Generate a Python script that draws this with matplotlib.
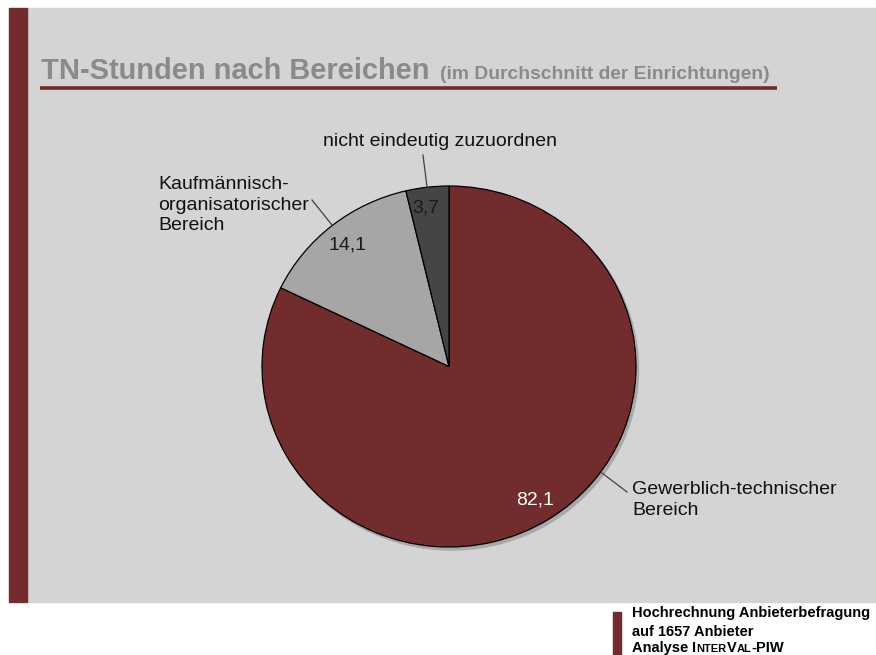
import matplotlib.pyplot as plt
from matplotlib.patches import Rectangle, Ellipse

# Daten
labels = ['Gewerblich-technischer\nBereich',
          'Kaufmännisch-\norganisatorischer\nBereich',
          'nicht eindeutig zuzuordnen']
values = [82.1, 14.1, 3.7]
value_texts = ['82,1', '14,1', '3,7']
colors = ['#722c2d', '#a6a6a6', '#454545']

W, H = 876, 655
fig = plt.figure(figsize=(W / 100, H / 100), dpi=100)
fig.patch.set_facecolor('white')

# Hintergrund in Pixelkoordinaten (y von oben)
bg = fig.add_axes([0, 0, 1, 1])
bg.set_xlim(0, W)
bg.set_ylim(H, 0)
bg.axis('off')
bg.add_patch(Rectangle((27, 8), W - 27, 594, color='#d4d4d4', zorder=0))
bg.add_patch(Rectangle((9, 8), 18, 594, color='#722c2d', zorder=1))
bg.plot([40, 777], [88, 88], color='#722c2d', lw=2.6, solid_capstyle='butt')

font = 'Liberation Sans'
bg.text(41, 79, 'TN-Stunden nach Bereichen', fontsize=20.9, fontweight='bold',
        color='#8a8a8a', family=font, va='baseline')
bg.text(440, 79, '(im Durchschnitt der Einrichtungen)', fontsize=13.9,
        fontweight='bold', color='#8a8a8a', family=font, va='baseline')

# Fußzeile
bg.add_patch(Rectangle((613, 612), 8, 43, color='#722c2d'))
bg.text(632, 613, 'Hochrechnung Anbieterbefragung', fontsize=10.5, fontweight='bold',
        family=font, va='center')
bg.text(632, 632, 'auf 1657 Anbieter', fontsize=10.5, fontweight='bold',
        family=font, va='center')
parts = [('Analyse ', 10.5), ('I', 10.5), ('NTER', 8), ('V', 10.5), ('AL', 8), ('-PIW', 10.5)]
fig.canvas.draw()
r = fig.canvas.get_renderer()
x = 632
for s, fs in parts:
    t = bg.text(x, 652, s, fontsize=fs, fontweight='bold', family=font, va='baseline')
    bb = t.get_window_extent(renderer=r)
    x += bb.width

# Schatten
cx, cy, rx, ry = 449, 366.5, 187, 180.5
bg.add_patch(Ellipse((cx + 2.5, cy + 3), 2 * rx, 2 * ry, color='#a9a9a9', zorder=2))

# Kreisdiagramm
ax = fig.add_axes([(cx - rx) / W, 1 - (cy + ry) / H, 2 * rx / W, 2 * ry / H])
ax.pie(values, colors=colors, startangle=90, counterclock=False,
       wedgeprops=dict(edgecolor='black', linewidth=0.9))
ax.set_aspect('auto')
ax.set_xlim(-1, 1)
ax.set_ylim(-1, 1)
ax.axis('off')

# Ebene für Texte über dem Kreis
top = fig.add_axes([0, 0, 1, 1])
top.set_xlim(0, W)
top.set_ylim(H, 0)
top.axis('off')
top.patch.set_alpha(0)

# Werte
top.text(535, 500, value_texts[0], fontsize=14, color='white', family=font,
         ha='center', va='center')
top.text(347, 245, value_texts[1], fontsize=14, color='#1a1a1a', family=font,
         ha='center', va='center')
top.text(426, 208, value_texts[2], fontsize=14, color='#1a1a1a', family=font,
         ha='center', va='center')

# Beschriftungen mit Linien
lc = '#404040'
top.plot([602, 627], [473, 492], color=lc, lw=0.9)
top.text(632, 500, labels[0], fontsize=14, family=font, ha='left', va='center',
         linespacing=1.3, color='#111111')
top.plot([312, 332], [200, 225], color=lc, lw=0.9)
top.text(158, 205, labels[1], fontsize=14, family=font, ha='left', va='center',
         linespacing=1.3, color='#111111')
top.plot([423, 427], [155, 187], color=lc, lw=0.9)
top.text(440, 142, labels[2], fontsize=14, family=font, ha='center', va='center',
         color='#111111')

fig.savefig('out.png', dpi=100, facecolor='white')
